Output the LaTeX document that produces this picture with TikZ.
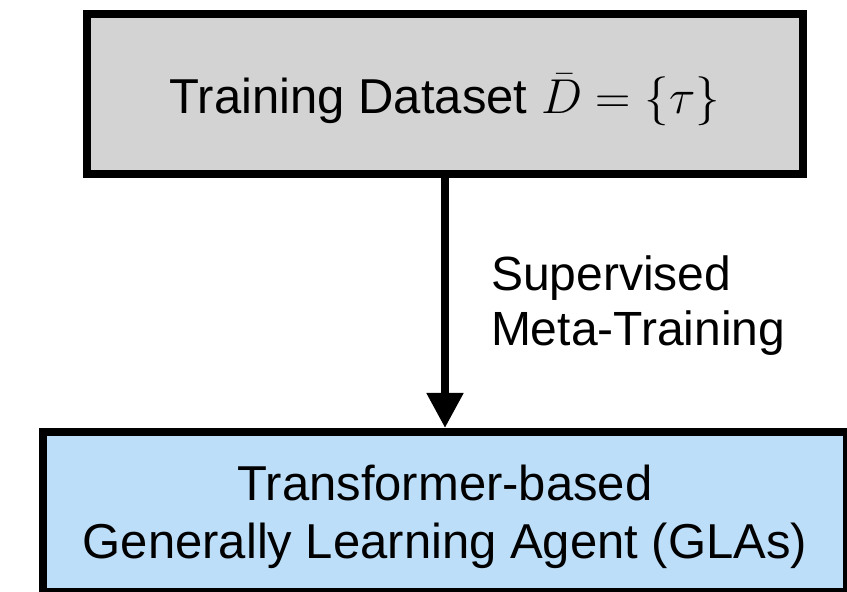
\RequirePackage{fix-cm}
\documentclass[tikz,border=0pt]{standalone}
\usepackage{amsmath,amssymb}
\usepackage{fontspec}
\setmainfont{Liberation Sans}
\usepackage{tikz}
\usetikzlibrary{arrows.meta,positioning}
\definecolor{DataGray}{HTML}{D3D3D3}
\definecolor{AgentBlue}{HTML}{BCDEF8}
\tikzset{
  databox/.style={rectangle,draw=black,fill=DataGray,line width=8pt,minimum width=716pt,minimum height=160pt,text depth=0pt,align=center,font=\fontsize{49}{58}\selectfont},
  agentbox/.style={rectangle,draw=black,fill=AgentBlue,line width=8pt,minimum width=804pt,minimum height=160pt,text depth=0pt,align=center,font=\fontsize{49}{58}\selectfont},
  arrow/.style={-{Triangle[width=35pt,length=35pt]},line width=8pt,color=black},
  steplabel/.style={align=left,inner sep=0pt,font=\fontsize{48}{55}\selectfont},
}

\begin{document}
\begin{tikzpicture}[x=1pt,y=1pt,node distance=250pt]
  \useasboundingbox (0,0) rectangle (847,592);
  % Dataset and agent
  \node[databox] (dataset) at (445,498) {Training Dataset $\bar{D} = \{\tau\}$};
  \node[agentbox, below=of dataset] (agent) {Transformer-based\\Generally Learning Agent (GLAs)};

  % Meta-training arrow
  \draw[arrow] (dataset) -- node[steplabel,right=42pt,yshift=-3pt]{Supervised\\Meta-Training} (agent);

\end{tikzpicture}
\end{document}
